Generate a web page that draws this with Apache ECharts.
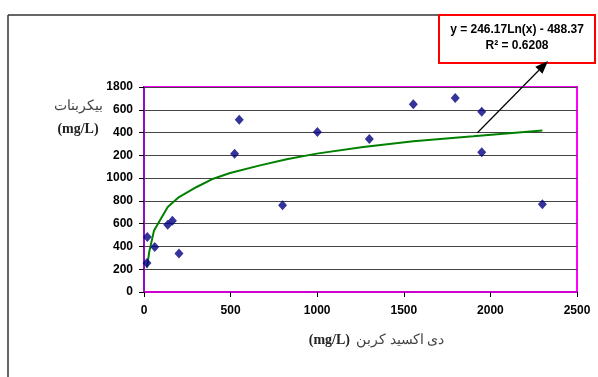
<!DOCTYPE html>
<html><head><meta charset="utf-8">
<script src="https://cdn.jsdelivr.net/npm/echarts@6/dist/echarts.min.js"></script>
<style>html,body{margin:0;padding:0;background:#fff}#c{width:598px;height:377px}</style>
</head><body><div id="c"></div>
<script>
// Data
var co2 = [17, 19, 62, 137, 164, 202, 523, 550, 800, 1001, 1301, 1555, 1797, 1950, 1950, 2300];
var bicarb = [255, 483, 395, 591, 626, 337, 1215, 1513, 761, 1405, 1343, 1648, 1703, 1583, 1226, 770];
var trendX = [17, 30, 58, 137, 202, 304, 400, 497, 670, 824, 997, 1266, 1555, 1901, 2300];
var trendY = [214, 350, 541, 746, 834, 922, 995, 1045, 1112, 1165, 1215, 1273, 1323, 1367, 1419];
var yTickLabels = ['0', '200', '400', '600', '800', '1000', '200', '400', '600', '1800'];
var xTickLabels = ['0', '500', '1000', '1500', '2000', '2500'];
var eqLine1 = 'y = 246.17Ln(x) - 488.37';
var eqLine2 = 'R² = 0.6208';
var yName1 = 'بیکربنات';
var yName2 = '(mg/L)';
var xNameFa = 'دی اکسید کربن';
var xNameUnit = '(mg/L)';

var pts = co2.map(function (x, i) { return [x, bicarb[i]]; });
var trend = trendX.map(function (x, i) { return [x, trendY[i]]; });

var chart = echarts.init(document.getElementById('c'));
var labelFont = { fontFamily: 'Liberation Sans', fontSize: 12, fontWeight: 'bold', color: '#000' };
chart.setOption({
  animation: false,
  grid: { left: 144, right: 21, top: 87, bottom: 85, show: true, borderColor: '#ff00ff', borderWidth: 2, backgroundColor: 'transparent' },
  xAxis: {
    type: 'value', min: 0, max: 2500, interval: 500,
    axisLine: { show: true, lineStyle: { color: '#d000d0', width: 2 } },
    axisTick: { show: true, length: 5, lineStyle: { color: '#000' } },
    splitLine: { show: false },
    axisLabel: Object.assign({ margin: 13, formatter: function (v) { return xTickLabels[Math.round(v / 500)]; } }, labelFont)
  },
  yAxis: {
    type: 'value', min: 0, max: 1800, interval: 200,
    axisLine: { show: true, lineStyle: { color: '#9010c0', width: 2 } },
    axisTick: { show: true, length: 5, lineStyle: { color: '#000' } },
    splitLine: { show: true, lineStyle: { color: '#444', width: 1 } },
    axisLabel: Object.assign({ margin: 11, formatter: function (v) { return yTickLabels[Math.round(v / 200)]; } }, labelFont)
  },
  series: [
    { type: 'line', data: trend, showSymbol: false, symbol: 'none', lineStyle: { color: '#008000', width: 2 }, z: 3 },
    { type: 'scatter', data: pts, symbol: 'diamond', symbolSize: [9, 10], itemStyle: { color: '#000080' }, z: 4 }
  ]
});

var s = chart.convertToPixel({ xAxisIndex: 0, yAxisIndex: 0 }, [1925, 1398]);
var tip = [548, 61];
var dx = tip[0] - s[0], dy = tip[1] - s[1], L = Math.sqrt(dx * dx + dy * dy);
var ux = dx / L, uy = dy / L, hl = 13, hw = 5;
var bx = tip[0] - ux * hl, by = tip[1] - uy * hl;
var head = [[tip[0], tip[1]], [bx - uy * hw, by + ux * hw], [bx + uy * hw, by - ux * hw]];

chart.setOption({
  graphic: [
    { type: 'line', shape: { x1: 8, y1: 15, x2: 439, y2: 15 }, style: { stroke: '#333', lineWidth: 1.5 } },
    { type: 'line', shape: { x1: 8, y1: 15, x2: 8, y2: 377 }, style: { stroke: '#333', lineWidth: 1.5 } },
    { type: 'rect', shape: { x: 439, y: 15, width: 156, height: 48 }, style: { fill: '#fff', stroke: '#ff0000', lineWidth: 2 } },
    { type: 'text', x: 517, y: 30, style: { text: eqLine1, font: 'bold 12px "Liberation Sans"', fill: '#000', align: 'center', verticalAlign: 'middle' } },
    { type: 'text', x: 517, y: 46, style: { text: eqLine2, font: 'bold 12px "Liberation Sans"', fill: '#000', align: 'center', verticalAlign: 'middle' } },
    { type: 'line', shape: { x1: s[0], y1: s[1], x2: bx, y2: by }, style: { stroke: '#000', lineWidth: 1.2 } },
    { type: 'polygon', shape: { points: head }, style: { fill: '#000' } },
    { type: 'text', x: 78, y: 106, style: { text: yName1, font: '14px "Liberation Serif"', fill: '#444', align: 'center', verticalAlign: 'middle' } },
    { type: 'text', x: 78, y: 129, style: { text: yName2, font: 'bold 14px "Liberation Serif"', fill: '#222', align: 'center', verticalAlign: 'middle' } },
    { type: 'text', x: 350, y: 340, style: { text: xNameUnit, font: 'bold 14px "Liberation Serif"', fill: '#222', align: 'right', verticalAlign: 'middle' } },
    { type: 'text', x: 356, y: 340, style: { text: xNameFa, font: '14px "Liberation Serif"', fill: '#444', align: 'left', verticalAlign: 'middle' } }
  ]
});
</script></body></html>
